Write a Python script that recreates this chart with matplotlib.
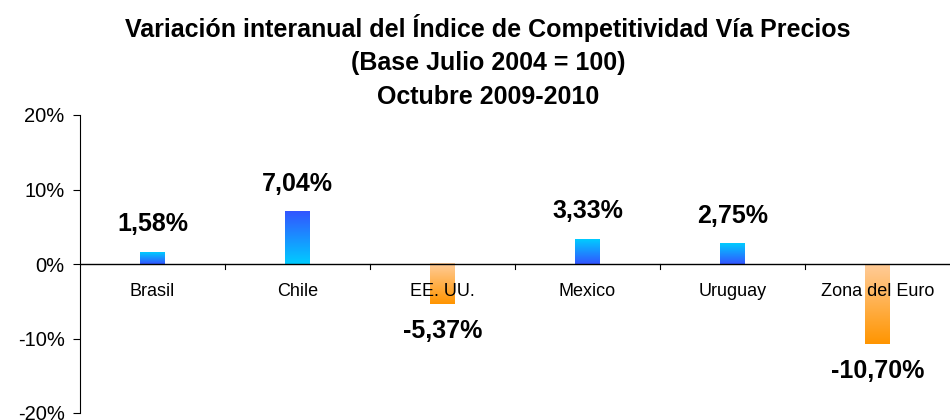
import numpy as np
import matplotlib.pyplot as plt
from matplotlib.colors import LinearSegmentedColormap
from matplotlib.ticker import FuncFormatter

plt.rcParams['font.family'] = ['Liberation Sans', 'DejaVu Sans']

# Year-on-year change of the price competitiveness index, Oct 2009-2010
paises = ['Brasil', 'Chile', 'EE. UU.', 'Mexico', 'Uruguay', 'Zona del Euro']
variacion = [1.58, 7.04, -5.37, 3.33, 2.75, -10.70]
etiquetas = ['1,58%', '7,04%', '-5,37%', '3,33%', '2,75%', '-10,70%']
# Chile's fill runs the other way round (blue on top)
invertido = [False, True, False, False, False, False]

azul = LinearSegmentedColormap.from_list('azul', ['#3355ff', '#00ccff'])
naranja = LinearSegmentedColormap.from_list('naranja', ['#ffcc99', '#ff9500'])

fig = plt.figure(figsize=(9.53, 4.2), dpi=100)
ax = fig.add_axes([80 / 953, 7 / 420, 870 / 953, 298 / 420])

x = np.arange(len(paises))
ancho = 0.17
barras = ax.bar(x, variacion, width=ancho, color='none', edgecolor='none')

# vertical gradient fill, first image row is the top of the bar
grad = np.linspace(0, 1, 256).reshape(-1, 1)
for b, v, inv in zip(barras, variacion, invertido):
    x0 = b.get_x()
    x1 = x0 + b.get_width()
    if v > 0:
        cmap = azul
        img = grad if inv else grad[::-1]
    else:
        cmap = naranja
        img = grad
    ax.imshow(img, cmap=cmap, extent=[x0, x1, min(0, v), max(0, v)],
              aspect='auto', origin='upper', zorder=2)

# value labels above / below each bar
for xi, v, t in zip(x, variacion, etiquetas):
    off = 20 if v > 0 else -19.5
    ax.annotate(t, (xi, v), xytext=(0, off), textcoords='offset points',
                ha='center', va='center', fontsize=18, fontweight='bold')

# country names sit just under the zero line
for xi, p in zip(x, paises):
    ax.annotate(p, (xi, 0), xytext=(0, -19.5), textcoords='offset points',
                ha='center', va='center', fontsize=13, zorder=3)

ax.axhline(0, color='black', lw=1, zorder=3)
for xb in x[:-1] + 0.5:
    ax.plot([xb, xb], [0, -0.7], color='black', lw=0.8, zorder=3)

ax.set_xlim(-0.5, len(paises) - 0.5)
ax.set_ylim(-20, 20)
ax.set_yticks([-20, -10, 0, 10, 20])
ax.yaxis.set_major_formatter(FuncFormatter(lambda v, _: f'{v:.0f}%'))
ax.tick_params(axis='y', labelsize=14.5, length=5, width=0.8, pad=6)
ax.set_xticks([])
for s in ['top', 'right', 'bottom']:
    ax.spines[s].set_visible(False)
ax.spines['left'].set_linewidth(0.8)

fig.text(0.512, 1 - 61 / 420, 'Variación interanual del Índice de Competitividad Vía Precios\n'
         '(Base Julio 2004 = 100)\nOctubre 2009-2010',
         ha='center', va='center', fontsize=18, fontweight='bold', linespacing=1.5)

fig.savefig('out.png', dpi=100)
